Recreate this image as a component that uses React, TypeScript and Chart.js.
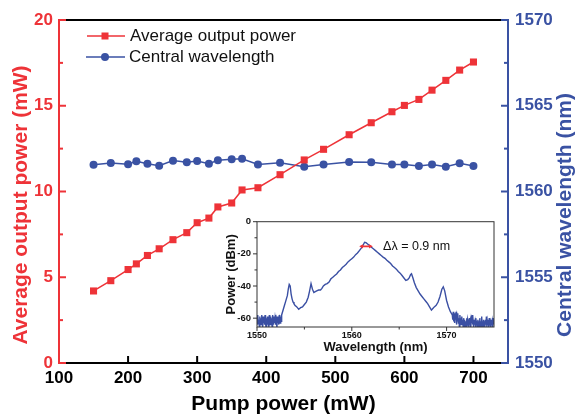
import React, { useEffect, useRef } from 'react';
import { Chart, registerables } from 'chart.js';

Chart.register(...registerables);

// ---------- main chart data ----------
const pumpPower = [150, 175, 200, 212, 228, 245, 265, 285, 300, 317, 330, 350, 365, 388, 420, 455, 483, 520, 552, 582, 600, 621, 640, 660, 680, 700];
const outputPower = [4.2, 4.8, 5.45, 5.78, 6.27, 6.66, 7.19, 7.6, 8.18, 8.45, 9.1, 9.33, 10.09, 10.22, 10.98, 11.84, 12.46, 13.31, 14.01, 14.65, 15.02, 15.37, 15.91, 16.48, 17.08, 17.55];
const centralWavelength = [1561.56, 1561.66, 1561.59, 1561.76, 1561.62, 1561.5, 1561.8, 1561.7, 1561.78, 1561.62, 1561.82, 1561.88, 1561.91, 1561.57, 1561.68, 1561.45, 1561.58, 1561.72, 1561.7, 1561.58, 1561.57, 1561.49, 1561.57, 1561.45, 1561.64, 1561.49];

const xTicks = [100, 200, 300, 400, 500, 600, 700];
const leftTicks = [0, 5, 10, 15, 20];
const leftMinor = [2.5, 7.5, 12.5, 17.5];
const rightTicks = [1550, 1555, 1560, 1565, 1570];
const rightMinor = [1552.5, 1557.5, 1562.5, 1567.5];

const legendLabels = ['Average output power', 'Central wavelength'];

// ---------- inset data ----------
const insetXTicks = [1550, 1560, 1570];
const insetXMinor = [1555, 1565];
const insetYTicks = [0, -20, -40, -60];
const insetYMinor = [-10, -30, -50];

const spectrum: [number, number][] = [
  [1550.00, -60], [1550.05, -64], [1550.10, -58], [1550.15, -63], [1550.20, -61], [1550.25, -66], [1550.30, -59], [1550.35, -63],
  [1550.40, -60], [1550.45, -64], [1550.50, -58], [1550.55, -62], [1550.60, -66], [1550.65, -59], [1550.70, -63], [1550.75, -60],
  [1550.80, -64], [1550.85, -58], [1550.90, -62], [1550.95, -66], [1551.00, -60], [1551.05, -63], [1551.10, -59], [1551.15, -64],
  [1551.20, -61], [1551.25, -66], [1551.30, -58], [1551.35, -62], [1551.40, -64], [1551.45, -59], [1551.50, -63], [1551.55, -60],
  [1551.60, -66], [1551.65, -58], [1551.70, -62], [1551.75, -64], [1551.80, -59], [1551.85, -63], [1551.90, -60], [1551.95, -64],
  [1552.00, -58], [1552.05, -62], [1552.10, -66], [1552.15, -59], [1552.20, -63], [1552.25, -60], [1552.30, -64], [1552.35, -58],
  [1552.40, -61], [1552.45, -63], [1552.50, -59], [1552.55, -62], [1552.60, -58],
  [1552.70, -56], [1552.80, -54], [1552.90, -52], [1553.00, -50], [1553.10, -48], [1553.20, -46], [1553.30, -42], [1553.40, -39],
  [1553.50, -40], [1553.60, -45], [1553.70, -48], [1553.80, -50], [1553.90, -51], [1554.00, -52], [1554.20, -53], [1554.40, -54.5],
  [1554.50, -54], [1554.60, -53.5], [1554.80, -53], [1555.00, -51.5], [1555.20, -50], [1555.40, -47], [1555.55, -43], [1555.70, -38.5],
  [1555.85, -42], [1556.00, -44], [1556.15, -43.5], [1556.30, -43], [1556.50, -42.5], [1556.70, -42.5], [1556.85, -41.5], [1557.00, -40],
  [1557.20, -39], [1557.40, -38.5], [1557.60, -37.5], [1557.80, -35.5], [1558.00, -34.5], [1558.20, -33.5], [1558.40, -32.5], [1558.60, -31],
  [1558.80, -30], [1559.00, -28.5], [1559.20, -27.5], [1559.40, -26.5], [1559.60, -25], [1559.80, -24], [1560.00, -23], [1560.20, -22],
  [1560.40, -20.5], [1560.60, -19.5], [1560.80, -18], [1561.00, -16.5], [1561.20, -14.5], [1561.35, -12.8], [1561.50, -13], [1561.70, -14],
  [1561.90, -15], [1562.10, -16], [1562.30, -17], [1562.50, -18], [1562.70, -19], [1562.90, -20], [1563.10, -21], [1563.30, -22],
  [1563.50, -22.8], [1563.70, -24], [1563.90, -25], [1564.10, -26], [1564.30, -27.5], [1564.50, -28.5], [1564.70, -29.5], [1564.90, -31],
  [1565.10, -32], [1565.30, -33.5], [1565.50, -35], [1565.70, -36.5], [1565.90, -36], [1566.05, -35], [1566.20, -33], [1566.30, -32.4],
  [1566.45, -35], [1566.60, -38], [1566.80, -41], [1567.00, -43], [1567.20, -45], [1567.40, -46.5], [1567.60, -48], [1567.80, -49.5],
  [1568.00, -51], [1568.20, -53], [1568.40, -55], [1568.55, -54], [1568.70, -53], [1568.90, -52], [1569.10, -50], [1569.30, -46.5],
  [1569.50, -42], [1569.65, -40.5], [1569.80, -43], [1570.00, -49], [1570.20, -53], [1570.40, -56], [1570.60, -58],
  [1570.65, -61], [1570.70, -56], [1570.75, -62], [1570.80, -57], [1570.85, -63], [1570.90, -58], [1570.95, -61], [1571.00, -56],
  [1571.05, -64], [1571.10, -59], [1571.15, -62], [1571.20, -57], [1571.25, -63], [1571.30, -60], [1571.35, -66], [1571.40, -58],
  [1571.45, -62], [1571.50, -60], [1571.55, -64], [1571.60, -59], [1571.65, -63], [1571.70, -61], [1571.75, -66], [1571.80, -60],
  [1571.85, -63], [1571.90, -61], [1571.95, -66], [1572.00, -62], [1572.05, -64], [1572.10, -60], [1572.15, -66], [1572.20, -61],
  [1572.25, -63], [1572.30, -62], [1572.35, -66], [1572.40, -60], [1572.45, -64], [1572.50, -62], [1572.55, -66], [1572.60, -61],
  [1572.65, -63], [1572.70, -58], [1572.75, -64], [1572.80, -62], [1572.85, -66], [1572.90, -61], [1572.95, -64], [1573.00, -62],
  [1573.05, -66], [1573.10, -60], [1573.15, -63], [1573.20, -62], [1573.25, -66], [1573.30, -61], [1573.35, -64], [1573.40, -62],
  [1573.45, -66], [1573.50, -60], [1573.55, -64], [1573.60, -62], [1573.65, -66], [1573.70, -59], [1573.75, -64], [1573.80, -62],
  [1573.85, -66], [1573.90, -61], [1573.95, -63], [1574.00, -62], [1574.05, -66], [1574.10, -61], [1574.15, -64], [1574.20, -59],
  [1574.25, -66], [1574.30, -62], [1574.35, -64], [1574.40, -61], [1574.45, -66], [1574.50, -60], [1574.55, -63], [1574.60, -62],
  [1574.65, -66], [1574.70, -61], [1574.75, -64], [1574.80, -62], [1574.85, -66], [1574.90, -60], [1574.95, -63], [1575.00, -62],
];

const fwhmMarker: [number, number][] = [[1561.05, -15.3], [1561.95, -15.3]];
const fwhmLabel = 'Δλ = 0.9 nm';
const fwhmLabelPos: [number, number] = [1563.3, -15.3];

// ---------- styles ----------
const RED = '#ee3338';
const BLUE = '#3a52a3';
const INSET_BLUE = '#3a4fa3';
const FONT = "Arial, 'Liberation Sans', Helvetica, sans-serif";

function seg(ctx: CanvasRenderingContext2D, x1: number, y1: number, x2: number, y2: number, color: string, w: number) {
  ctx.beginPath();
  ctx.strokeStyle = color;
  ctx.lineWidth = w;
  ctx.moveTo(x1, y1);
  ctx.lineTo(x2, y2);
  ctx.stroke();
}

function rotatedText(ctx: CanvasRenderingContext2D, text: string, x: number, y: number, font: string, color: string, baseline: CanvasTextBaseline) {
  ctx.save();
  ctx.translate(x, y);
  ctx.rotate(-Math.PI / 2);
  ctx.font = font;
  ctx.fillStyle = color;
  ctx.textAlign = 'center';
  ctx.textBaseline = baseline;
  ctx.fillText(text, 0, 0);
  ctx.restore();
}

const mainDecor = {
  id: 'mainDecor',
  afterDraw(chart: any) {
    const { ctx, chartArea } = chart;
    const { left, right, top, bottom } = chartArea;
    const sx = chart.scales.x;
    const sy = chart.scales.y;
    const sy2 = chart.scales.y2;
    ctx.save();
    ctx.lineCap = 'butt';
    seg(ctx, left, top, right, top, '#000', 2);
    seg(ctx, left, bottom, right, bottom, '#000', 2);
    xTicks.forEach((v) => {
      if (v === 100) return;
      const px = sx.getPixelForValue(v);
      seg(ctx, px, bottom, px, bottom - 7, '#000', 2);
    });
    seg(ctx, left, top - 1, left, bottom + 1, RED, 2);
    leftTicks.forEach((v) => {
      const py = sy.getPixelForValue(v);
      seg(ctx, left, py, left + 7, py, RED, 2);
    });
    leftMinor.forEach((v) => {
      const py = sy.getPixelForValue(v);
      seg(ctx, left, py, left + 4, py, RED, 2);
    });
    seg(ctx, right, top - 1, right, bottom + 1, BLUE, 2);
    rightTicks.forEach((v) => {
      const py = sy2.getPixelForValue(v);
      seg(ctx, right, py, right - 7, py, BLUE, 2);
    });
    rightMinor.forEach((v) => {
      const py = sy2.getPixelForValue(v);
      seg(ctx, right, py, right - 4, py, BLUE, 2);
    });

    // legend
    ctx.font = `17px ${FONT}`;
    ctx.textAlign = 'left';
    ctx.textBaseline = 'middle';
    seg(ctx, 87, 36, 125, 36, RED, 1.5);
    ctx.fillStyle = RED;
    ctx.fillRect(105 - 3.5, 36 - 3.5, 7, 7);
    ctx.fillStyle = '#111';
    ctx.fillText(legendLabels[0], 130, 36);
    seg(ctx, 86, 57, 125, 57, BLUE, 1.5);
    ctx.fillStyle = BLUE;
    ctx.beginPath();
    ctx.arc(105, 57, 4, 0, Math.PI * 2);
    ctx.fill();
    ctx.fillStyle = '#111';
    ctx.fillText(legendLabels[1], 129, 57);

    // axis titles
    ctx.font = `bold 21px ${FONT}`;
    ctx.fillStyle = '#000';
    ctx.textAlign = 'center';
    ctx.textBaseline = 'middle';
    ctx.fillText('Pump power (mW)', (left + right) / 2, 404);
    rotatedText(ctx, 'Average output power (mW)', 27, 205, `bold 21px ${FONT}`, RED, 'alphabetic');
    rotatedText(ctx, 'Central wavelength (nm)', 571, 215, `bold 21px ${FONT}`, BLUE, 'alphabetic');
    ctx.restore();
  },
};

const insetDecor = {
  id: 'insetDecor',
  beforeDatasetsDraw(chart: any) {
    const { ctx, chartArea } = chart;
    ctx.save();
    ctx.fillStyle = '#fff';
    ctx.fillRect(chartArea.left, chartArea.top, chartArea.right - chartArea.left, chartArea.bottom - chartArea.top);
    ctx.restore();
  },
  afterDraw(chart: any) {
    const { ctx, chartArea } = chart;
    const { left, right, top, bottom } = chartArea;
    const sx = chart.scales.x;
    const sy = chart.scales.y;
    ctx.save();
    ctx.strokeStyle = '#333';
    ctx.lineWidth = 1;
    ctx.strokeRect(left, top, right - left, bottom - top);
    insetXTicks.forEach((v) => {
      const px = sx.getPixelForValue(v);
      seg(ctx, px, bottom, px, bottom + 4, '#333', 1);
    });
    insetXMinor.forEach((v) => {
      const px = sx.getPixelForValue(v);
      seg(ctx, px, bottom, px, bottom + 2.5, '#333', 1);
    });
    insetYTicks.forEach((v) => {
      const py = sy.getPixelForValue(v);
      seg(ctx, left, py, left - 4, py, '#333', 1);
    });
    insetYMinor.forEach((v) => {
      const py = sy.getPixelForValue(v);
      seg(ctx, left, py, left - 2.5, py, '#333', 1);
    });
    ctx.font = `12.5px ${FONT}`;
    ctx.fillStyle = '#111';
    ctx.textAlign = 'left';
    ctx.textBaseline = 'middle';
    ctx.fillText(fwhmLabel, sx.getPixelForValue(fwhmLabelPos[0]), sy.getPixelForValue(fwhmLabelPos[1]));
    ctx.font = `bold 13px ${FONT}`;
    ctx.fillStyle = '#111';
    ctx.textAlign = 'center';
    ctx.fillText('Wavelength (nm)', (left + right) / 2, 137);
    rotatedText(ctx, 'Power (dBm)', 31, (top + bottom) / 2, `bold 13px ${FONT}`, '#111', 'middle');
    ctx.restore();
  },
};

function MainChart() {
  const ref = useRef<HTMLCanvasElement | null>(null);
  useEffect(() => {
    if (!ref.current) return;
    const chart = new Chart(ref.current, {
      type: 'line',
      data: {
        datasets: [
          {
            label: legendLabels[0],
            data: pumpPower.map((p, i) => ({ x: p, y: outputPower[i] })),
            yAxisID: 'y',
            borderColor: RED,
            backgroundColor: RED,
            borderWidth: 1.5,
            pointStyle: 'rect',
            pointRadius: 5,
            pointBorderWidth: 0,
            pointBackgroundColor: RED,
          },
          {
            label: legendLabels[1],
            data: pumpPower.map((p, i) => ({ x: p, y: centralWavelength[i] })),
            yAxisID: 'y2',
            borderColor: BLUE,
            backgroundColor: BLUE,
            borderWidth: 1.5,
            pointStyle: 'circle',
            pointRadius: 4,
            pointBorderWidth: 0,
            pointBackgroundColor: BLUE,
          },
        ],
      },
      options: {
        animation: false,
        responsive: false,
        maintainAspectRatio: false,
        layout: { padding: { top: 20, left: 0, right: 0, bottom: 0 } },
        plugins: { legend: { display: false }, tooltip: { enabled: false } },
        scales: {
          x: {
            type: 'linear',
            min: 100,
            max: 750,
            afterBuildTicks: (s: any) => { s.ticks = xTicks.map((v) => ({ value: v })); },
            afterFit: (s: any) => { s.height = 54; },
            grid: { display: false, drawTicks: false },
            border: { display: false },
            ticks: { autoSkip: false, maxRotation: 0, padding: 5, color: '#000', font: { family: FONT, weight: 'bold', size: 17 }, callback: (v: any) => String(v) },
          },
          y: {
            type: 'linear',
            position: 'left',
            min: 0,
            max: 20,
            afterBuildTicks: (s: any) => { s.ticks = leftTicks.map((v) => ({ value: v })); },
            afterFit: (s: any) => { s.width = 59; },
            grid: { display: false, drawTicks: false },
            border: { display: false },
            ticks: { autoSkip: false, padding: 6, color: RED, font: { family: FONT, weight: 'bold', size: 17 }, callback: (v: any) => String(v) },
          },
          y2: {
            type: 'linear',
            position: 'right',
            min: 1550,
            max: 1570,
            afterBuildTicks: (s: any) => { s.ticks = rightTicks.map((v) => ({ value: v })); },
            afterFit: (s: any) => { s.width = 69; },
            grid: { display: false, drawTicks: false },
            border: { display: false },
            ticks: { autoSkip: false, padding: 7, color: BLUE, font: { family: FONT, weight: 'bold', size: 17 }, callback: (v: any) => String(v) },
          },
        },
      },
      plugins: [mainDecor],
    } as any);
    return () => chart.destroy();
  }, []);
  return <canvas ref={ref} width={577} height={417} style={{ position: 'absolute', left: 0, top: 0, width: 577, height: 417 }} />;
}

function InsetChart() {
  const ref = useRef<HTMLCanvasElement | null>(null);
  useEffect(() => {
    if (!ref.current) return;
    const chart = new Chart(ref.current, {
      type: 'line',
      data: {
        datasets: [
          {
            label: 'Spectrum',
            data: spectrum.map(([x, y]) => ({ x, y })),
            borderColor: INSET_BLUE,
            borderWidth: 1.4,
            pointRadius: 0,
            tension: 0,
            order: 2,
          },
          {
            label: 'FWHM',
            data: fwhmMarker.map(([x, y]) => ({ x, y })),
            borderColor: RED,
            backgroundColor: RED,
            borderWidth: 1.8,
            pointStyle: 'triangle',
            pointRotation: [-90, 90],
            pointRadius: 2.5,
            pointBorderWidth: 0,
            order: 1,
          },
        ],
      },
      options: {
        animation: false,
        responsive: false,
        maintainAspectRatio: false,
        layout: { padding: { top: 11, right: 6, left: 0, bottom: 0 } },
        plugins: { legend: { display: false }, tooltip: { enabled: false } },
        scales: {
          x: {
            type: 'linear',
            min: 1550,
            max: 1575,
            afterBuildTicks: (s: any) => { s.ticks = insetXTicks.map((v) => ({ value: v })); },
            afterFit: (s: any) => { s.height = 33; },
            grid: { display: false, drawTicks: false },
            border: { display: false },
            ticks: { autoSkip: false, maxRotation: 0, padding: 3, color: '#111', font: { family: FONT, weight: 'bold', size: 9 }, callback: (v: any) => String(v) },
          },
          y: {
            type: 'linear',
            min: -65.5,
            max: 0,
            afterBuildTicks: (s: any) => { s.ticks = insetYTicks.map((v) => ({ value: v })); },
            afterFit: (s: any) => { s.width = 57; },
            grid: { display: false, drawTicks: false },
            border: { display: false },
            ticks: { autoSkip: false, padding: 6, color: '#111', font: { family: FONT, weight: 'bold', size: 9.5 }, callback: (v: any) => String(v) },
          },
        },
      },
      plugins: [insetDecor],
    } as any);
    return () => chart.destroy();
  }, []);
  return <canvas ref={ref} width={300} height={150} style={{ position: 'absolute', left: 200, top: 210, width: 300, height: 150 }} />;
}

export default function App() {
  return (
    <div style={{ position: 'fixed', left: 0, top: 0, width: 577, height: 417, background: '#fff', overflow: 'hidden' }}>
      <MainChart />
      <InsetChart />
    </div>
  );
}
